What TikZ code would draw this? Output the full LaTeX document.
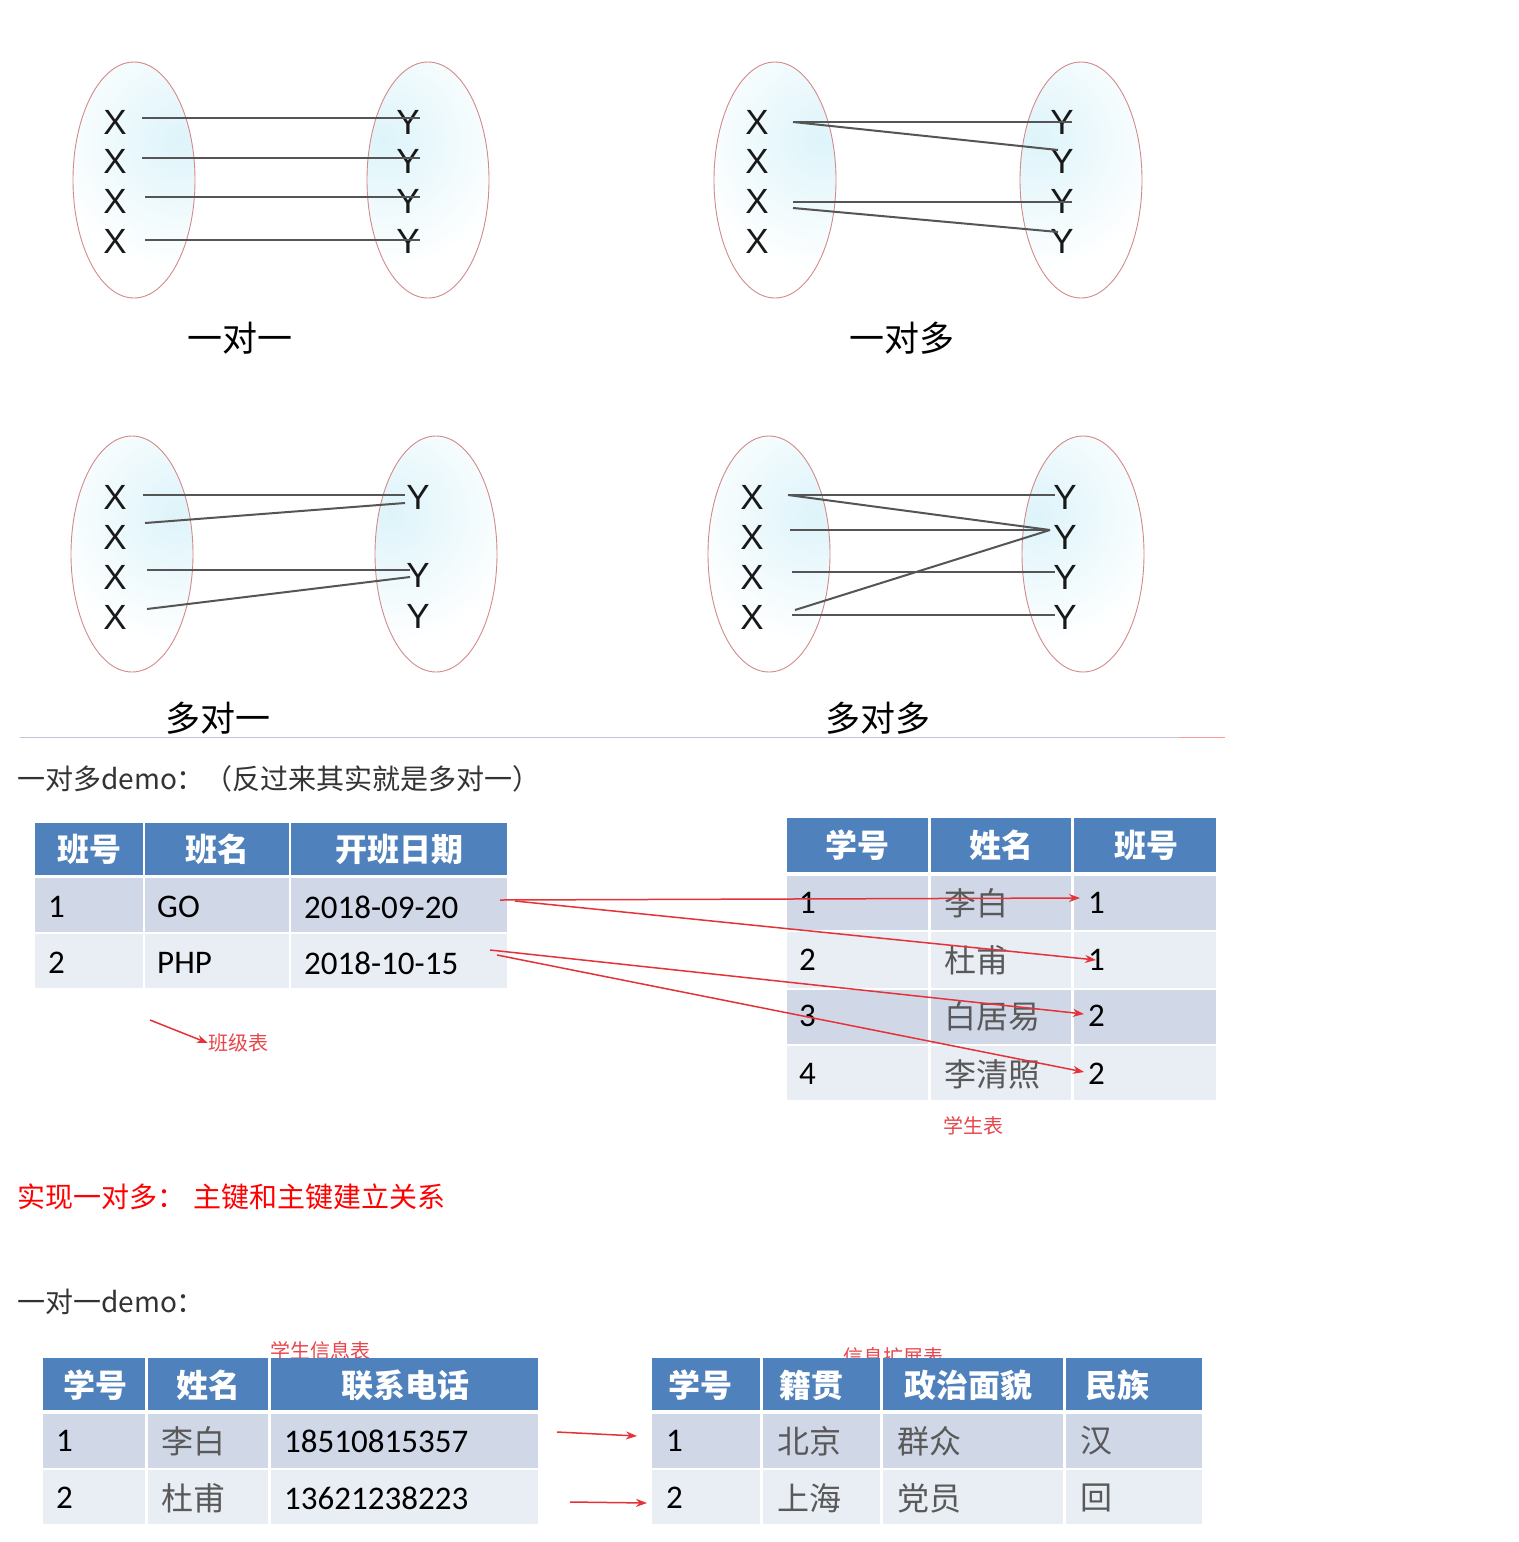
\documentclass[tikz,border=0pt]{standalone}
\usepackage{fontspec}
\setmainfont{Carlito}
\newfontfamily\cjk{Noto Sans CJK SC}
\newfontfamily\arialf{Liberation Sans}
\usetikzlibrary{arrows.meta,calc}
\definecolor{hdrblue}{HTML}{4F81BD}
\definecolor{rowA}{HTML}{D0D8E8}
\definecolor{rowB}{HTML}{E9EDF4}
\definecolor{ellred}{HTML}{D28A8A}
\definecolor{linkgray}{HTML}{555555}
\definecolor{arrred}{HTML}{E53238}
\definecolor{tint}{HTML}{DDF4FA}
\tikzset{
  ell/.style={draw=ellred, line width=0.9pt},
  letter/.style={font=\arialf\fontsize{35}{38}\selectfont, text=black!90, inner sep=0pt},
  link/.style={draw=linkgray, line width=2pt},
  caption/.style={font=\cjk\fontsize{35}{40}\selectfont, text=black, inner sep=0pt},
  para/.style={font=\cjk\fontsize{28}{32}\selectfont, text=black!80, anchor=west, inner sep=0pt},
  hd/.style={font=\cjk\bfseries\fontsize{32}{36}\selectfont, text=white, inner sep=0pt},
  cell/.style={font=\fontsize{33}{36}\selectfont, text=black, anchor=west, inner sep=0pt},
  ccell/.style={font=\cjk\fontsize{32}{36}\selectfont, text=black!65, anchor=west, inner sep=0pt},
  tlabel/.style={font=\cjk\fontsize{20}{22}\selectfont, text=arrred!90, inner sep=0pt},
  redarr/.style={draw=arrred, line width=1.5pt, -{Stealth[length=11pt,width=8pt]}},
  sep/.style={draw=white, line width=2.6pt}
}
\newcommand{\tintell}[4]{% cx cy dx dy
  \begin{scope}
    \clip (#1,#2) ellipse [x radius=61pt, y radius=118pt];
    \shade[inner color=tint, outer color=white] ($(#1,#2)+(#3,#4)$) circle [radius=130pt];
  \end{scope}
  \draw[ell] (#1,#2) ellipse [x radius=61pt, y radius=118pt];
}
\begin{document}
\begin{tikzpicture}[x=1pt,y=-1pt]
\useasboundingbox[fill=white] (0,0) rectangle (1518,1542);

% ---------- diagram 1: one to one ----------
\tintell{134}{180}{45}{-40}
\tintell{428}{180}{-45}{-40}
\foreach \i/\yy in {1/122,2/161,3/201,4/241}{
  \node[letter] (a\i) at (115,\yy) {X};
  \node[letter] (b\i) at (408,\yy) {Y};
}
\draw[link] ($(a1)+(27,-4)$) -- ($(b1)+(12,-4)$);
\draw[link] ($(a2)+(27,-3)$) -- ($(b2)+(12,-3)$);
\draw[link] ($(a3)+(30,-4)$) -- ($(b3)+(12,-4)$);
\draw[link] ($(a4)+(30,-1)$) -- ($(b4)+(12,-1)$);
\node[caption] (cap1) at (240,338) {一对一};

% ---------- diagram 2: one to many ----------
\tintell{775}{180}{45}{-40}
\tintell{1081}{180}{-45}{-40}
\foreach \i/\yy in {1/122,2/161,3/201,4/241}{
  \node[letter] (c\i) at (757,\yy) {X};
  \node[letter] (d\i) at (1062,\yy) {Y};
}
\draw[link] ($(c1)+(36,0)$) -- ($(d1)+(10,0)$);
\draw[link] ($(c1)+(36,0)$) -- ($(d2)+(-4,-11)$);
\draw[link] ($(c3)+(36,1)$) -- ($(d3)+(10,1)$);
\draw[link] ($(c3)+(36,7)$) -- ($(d4)+(-4,-9)$);
\node[caption] (cap2) at (902,338) {一对多};

% ---------- diagram 3: many to one ----------
\tintell{132}{554}{45}{-40}
\tintell{436}{554}{-45}{-40}
\foreach \i/\yy in {1/497,2/537,3/577,4/617}{
  \node[letter] (e\i) at (115,\yy) {X};
}
\node[letter] (f1) at (418,497) {Y};
\node[letter] (f2) at (418,575) {Y};
\node[letter] (f3) at (418,616) {Y};
\draw[link] ($(e1)+(28,-2)$) -- ($(f1)+(-13,-2)$);
\draw[link] ($(e2)+(30,-14)$) -- ($(f1)+(-13,6)$);
\draw[link] ($(e3)+(32,-7)$) -- ($(f2)+(-8,-5)$);
\draw[link] ($(e4)+(32,-8)$) -- ($(f2)+(-8,2)$);
\node[caption] (cap3) at (218,718) {多对一};

% ---------- diagram 4: many to many ----------
\tintell{769}{554}{45}{-40}
\tintell{1083}{554}{-45}{-40}
\foreach \i/\yy in {1/497,2/537,3/577,4/617}{
  \node[letter] (g\i) at (752,\yy) {X};
  \node[letter] (h\i) at (1065,\yy) {Y};
}
\draw[link] ($(g1)+(36,-2)$) -- ($(h1)+(-10,-2)$);
\draw[link] ($(g1)+(36,-2)$) -- ($(h2)+(-15,-7)$);
\draw[link] ($(g2)+(38,-7)$) -- ($(h2)+(-15,-7)$);
\draw[link] ($(g3)+(40,-5)$) -- ($(h3)+(-10,-5)$);
\draw[link] ($(g4)+(43,-7)$) -- ($(h2)+(-15,-7)$);
\draw[link] ($(g4)+(40,-2)$) -- ($(h4)+(-10,-2)$);
\node[caption] (cap4) at (878,718) {多对多};

% separator
\coordinate (s0) at (20,737);
\coordinate (s1) at (1180,737);
\coordinate (s2) at (1225,737);
\draw[draw=blue!20!gray!40, line width=1pt] (s0) -- (s1);
\draw[draw=red!40, line width=1pt] (s1) -- (s2);

% ---------- one-to-many demo ----------
\node[para] (p1) at (17,779) {一对多demo：（反过来其实就是多对一）};

% class table
\fill[hdrblue] (35,823) rectangle (507,875);
\fill[rowA] (35,878) rectangle (507,932);
\fill[rowB] (35,934) rectangle (507,988);
\draw[sep] (144,823) -- (144,988);
\draw[sep] (290,823) -- (290,988);
\node[hd] (ch1) at (89,849) {班号};
\node[hd] (ch2) at (217,849) {班名};
\node[hd] (ch3) at (399,849) {开班日期};
\node[cell] (k11) at (48,907) {1};
\node[cell] (k12) at (157,907) {GO};
\node[cell] (k13) at (304,907) {2018-09-20};
\node[cell] (k21) at (48,963) {2};
\node[cell] (k22) at (157,963) {PHP};
\node[cell] (k23) at (304,963) {2018-10-15};

% student table
\fill[hdrblue] (787,818) rectangle (1216,872);
\fill[rowA] (787,876) rectangle (1216,930);
\fill[rowB] (787,932) rectangle (1216,988);
\fill[rowA] (787,990) rectangle (1216,1044);
\fill[rowB] (787,1046) rectangle (1216,1100);
\draw[sep] (929.5,818) -- (929.5,1100);
\draw[sep] (1072.5,818) -- (1072.5,1100);
\node[hd] (sh1) at (857,845) {学号};
\node[hd] (sh2) at (1001,845) {姓名};
\node[hd] (sh3) at (1146,845) {班号};
\foreach \i/\yy/\nm/\cl in {1/903/李白/1,2/960/杜甫/1,3/1016/白居易/2,4/1074/李清照/2}{
  \node[cell] (sn\i) at (799,\yy) {\i};
  \node[ccell] (sm\i) at (944,\yy) {\nm};
  \node[cell] (sc\i) at (1088,\yy) {\cl};
}
\coordinate (o1) at (500,900);
\coordinate (o2) at (515,901);
\coordinate (o3) at (490,950);
\coordinate (o4) at (497,955);
\draw[redarr] (o1) -- ($(sc1.west)+(-8,-5)$);
\draw[redarr] (o2) -- ($(sc2.west)+(8,0)$);
\draw[redarr] (o3) -- ($(sc3.west)+(-4,-2)$);
\draw[redarr] (o4) -- ($(sc4.west)+(-4,-2)$);

% table labels
\node[tlabel] (lab1) at (238,1043) {班级表};
\coordinate (la) at (150,1020);
\draw[redarr] (la) -- (lab1.west);
\node[tlabel] (lab2) at (973,1126) {学生表};

% red remark
\node[para, text=red] (p2) at (17,1197) {实现一对多：\hspace{0.3em}主键和主键建立关系};

% ---------- one-to-one demo ----------
\node[para] (p3) at (17,1302) {一对一demo：};

\node[tlabel] (lab3) at (320,1351) {学生信息表};
\node[tlabel] (lab4) at (893,1357) {信息扩展表};

% student info table
\fill[hdrblue] (43,1358) rectangle (538,1410);
\fill[rowA] (43,1414) rectangle (538,1468);
\fill[rowB] (43,1470) rectangle (538,1524);
\draw[sep] (146.5,1358) -- (146.5,1524);
\draw[sep] (269.5,1358) -- (269.5,1524);
\node[hd] (ih1) at (95,1385) {学号};
\node[hd] (ih2) at (208,1385) {姓名};
\node[hd] (ih3) at (405,1385) {联系电话};
\node[cell] (i11) at (56,1441) {1};
\node[ccell] (i12) at (161,1441) {李白};
\node[cell] (i13) at (284,1441) {18510815357};
\node[cell] (i21) at (56,1498) {2};
\node[ccell] (i22) at (161,1498) {杜甫};
\node[cell] (i23) at (284,1498) {13621238223};

% extension table
\fill[hdrblue] (652,1358) rectangle (1202,1410);
\fill[rowA] (652,1414) rectangle (1202,1468);
\fill[rowB] (652,1470) rectangle (1202,1524);
\draw[sep] (761.5,1358) -- (761.5,1524);
\draw[sep] (881.5,1358) -- (881.5,1524);
\draw[sep] (1064.5,1358) -- (1064.5,1524);
\node[hd] (eh1) at (700,1385) {学号};
\node[hd] (eh2) at (811,1385) {籍贯};
\node[hd] (eh3) at (968,1385) {政治面貌};
\node[hd] (eh4) at (1117,1385) {民族};
\node[cell] (x11) at (666,1441) {1};
\node[ccell] (x12) at (777,1441) {北京};
\node[ccell] (x13) at (897,1441) {群众};
\node[ccell] (x14) at (1080,1441) {汉};
\node[cell] (x21) at (666,1498) {2};
\node[ccell] (x22) at (777,1498) {上海};
\node[ccell] (x23) at (897,1498) {党员};
\node[ccell] (x24) at (1080,1498) {回};

\coordinate (q1) at (557,1432);
\coordinate (q2) at (570,1502);
\draw[redarr] (q1) -- ($(x11.west)+(-29,-5)$);
\draw[redarr] (q2) -- ($(x21.west)+(-19,5)$);
\end{tikzpicture}
\end{document}
